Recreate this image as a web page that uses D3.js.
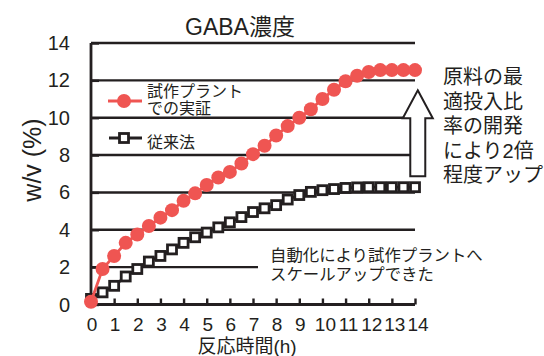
<!DOCTYPE html>
<html>
<head>
<meta charset="utf-8">
<script src="https://cdn.jsdelivr.net/npm/d3@7"></script>
<style>
  html, body { margin: 0; padding: 0; background: #fff; }
  svg { display: block; }
  text { font-family: "Liberation Sans", Arial, "Noto Sans CJK JP", sans-serif; fill: #231f20; }
</style>
</head>
<body>
<div id="chart"></div>
<script>
// Reaction time (h)
const hours = [0, 0.5, 1, 1.5, 2, 2.5, 3, 3.5, 4, 4.5, 5, 5.5, 6, 6.5, 7,
               7.5, 8, 8.5, 9, 9.5, 10, 10.5, 11, 11.5, 12, 12.5, 13, 13.5, 14];
// GABA concentration, w/v (%) — pilot plant run
const pilotValues = [0.15, 1.9, 2.6, 3.3, 3.75, 4.2, 4.65, 5.05, 5.55, 5.95, 6.4, 6.8, 7.1, 7.55, 8.05,
                     8.5, 9.05, 9.55, 10.0, 10.45, 11.0, 11.5, 11.95, 12.25, 12.45, 12.55, 12.55, 12.55, 12.55];
// GABA concentration, w/v (%) — conventional method
const conventionalValues = [0.3, 0.65, 1.0, 1.5, 1.9, 2.3, 2.6, 2.95, 3.3, 3.6, 3.85, 4.13, 4.4, 4.68, 4.95,
                            5.15, 5.32, 5.62, 5.86, 6.03, 6.12, 6.18, 6.24, 6.27, 6.28, 6.28, 6.28, 6.28, 6.28];
const xTicks = [0, 1, 2, 3, 4, 5, 6, 7, 8, 9, 10, 11, 12, 13, 14];
const yTicks = [0, 2, 4, 6, 8, 10, 12, 14];
const seriesNames = ["試作プラント", "での実証", "従来法"];
const titleText = "GABA濃度";
const xLabel = "反応時間(h)";
const yLabel = "w/v (%)";
const noteRight = ["原料の最", "適投入比", "率の開発", "により2倍", "程度アップ"];
const noteBottom = ["自動化により試作プラントへ", "スケールアップできた"];

const W = 544, H = 356;
const RED = "#ef5552", INK = "#231f20";
const plotL = 91, plotR = 415, plotT = 43, plotB = 304.5;

const x = d3.scaleLinear().domain([0, 14]).range([plotL, plotR]);
const y = d3.scaleLinear().domain([0, 14]).range([plotB, plotT]);

const svg = d3.select("#chart").append("svg").attr("width", W).attr("height", H);

// Horizontal gridlines
svg.append("g").selectAll("line").data(yTicks.filter(d => d > 0)).join("line")
  .attr("x1", x(0)).attr("x2", x(14))
  .attr("y1", d => y(d)).attr("y2", d => y(d))
  .attr("stroke", INK).attr("stroke-width", 2.4);

// Y axis (ticks point inward)
const yAxis = svg.append("g").attr("transform", `translate(${x(0)},0)`)
  .call(d3.axisRight(y).tickValues(yTicks).tickSize(8).tickFormat(""));
yAxis.select(".domain").attr("stroke", INK).attr("stroke-width", 2.8).attr("d", `M0,${plotB}V${plotT}`);
yAxis.selectAll(".tick line").attr("stroke", INK).attr("stroke-width", 2.4);
svg.append("g").selectAll("text").data(yTicks).join("text")
  .attr("x", 70).attr("y", d => y(d) + 7)
  .attr("text-anchor", "end").attr("font-size", 20).text(d => d);

// X axis (ticks point inward)
const xAxis = svg.append("g").attr("transform", `translate(0,${plotB})`)
  .call(d3.axisTop(x).tickValues(xTicks).tickSize(6).tickFormat(""));
xAxis.select(".domain").attr("stroke", INK).attr("stroke-width", 2.8).attr("d", `M${plotL},0H${plotR}`);
xAxis.selectAll(".tick line").attr("stroke", INK).attr("stroke-width", 2.4);
svg.append("g").selectAll("text").data(xTicks).join("text")
  .attr("x", d => x(d) + (d >= 10 ? 3 : 1)).attr("y", 331)
  .attr("text-anchor", "middle").attr("font-size", 19).text(d => d);

// Titles
svg.append("text").attr("x", 240).attr("y", 35).attr("text-anchor", "middle")
  .attr("font-size", 23).text(titleText);
svg.append("text").attr("x", 247).attr("y", 353).attr("text-anchor", "middle")
  .attr("font-size", 19).text(xLabel);
svg.append("text").attr("transform", "translate(41,160) rotate(-90)")
  .attr("text-anchor", "middle").attr("font-size", 25).text(yLabel);

// White panel behind the lower note
svg.append("rect").attr("x", 258).attr("y", 243).attr("width", 240).attr("height", 42).attr("fill", "#fff");
const nb = svg.append("text").attr("font-size", 16.4);
noteBottom.forEach((t, i) => nb.append("tspan").attr("x", 270).attr("y", 261 + i * 18.5).text(t));

// Series
const pilot = hours.map((h, i) => ({ h, v: pilotValues[i] }));
const conv = hours.map((h, i) => ({ h, v: conventionalValues[i] }));
const line = d3.line().x(d => x(d.h)).y(d => y(d.v));

svg.append("path").datum(conv).attr("d", line)
  .attr("fill", "none").attr("stroke", INK).attr("stroke-width", 2.8);
svg.append("g").selectAll("rect").data(conv).join("rect")
  .attr("x", d => x(d.h) - 4.5).attr("y", d => y(d.v) - 4.5)
  .attr("width", 9).attr("height", 9)
  .attr("fill", "#fff").attr("stroke", INK).attr("stroke-width", 2.8);

svg.append("path").datum(pilot).attr("d", line)
  .attr("fill", "none").attr("stroke", RED).attr("stroke-width", 2.8);
svg.append("g").selectAll("circle").data(pilot).join("circle")
  .attr("cx", d => x(d.h)).attr("cy", d => y(d.v)).attr("r", 7)
  .attr("fill", RED);

// Upward arrow
const ax = x(14.12), aTip = y(11.47), aHead = y(9.97), aBase = y(6.87);
svg.append("path")
  .attr("d", `M${ax},${aTip}L${ax + 15},${aHead}L${ax + 7.5},${aHead}L${ax + 7.5},${aBase}` +
             `L${ax - 7.5},${aBase}L${ax - 7.5},${aHead}L${ax - 15},${aHead}Z`)
  .attr("fill", "#fff").attr("stroke", INK).attr("stroke-width", 2).attr("stroke-linejoin", "miter");

const nr = svg.append("text").attr("font-size", 20);
noteRight.forEach((t, i) => nr.append("tspan").attr("x", 443).attr("y", 84 + i * 24.5).text(t));

// Legend
const lg = svg.append("g");
lg.append("line").attr("x1", 108).attr("x2", 142).attr("y1", 101).attr("y2", 101)
  .attr("stroke", RED).attr("stroke-width", 2.8);
lg.append("circle").attr("cx", 124).attr("cy", 101).attr("r", 7).attr("fill", RED);
lg.append("text").attr("x", 147).attr("y", 97).attr("font-size", 16).text(seriesNames[0]);
lg.append("text").attr("x", 147).attr("y", 114).attr("font-size", 16).text(seriesNames[1]);
lg.append("line").attr("x1", 109).attr("x2", 142).attr("y1", 138).attr("y2", 138)
  .attr("stroke", INK).attr("stroke-width", 2.8);
lg.append("rect").attr("x", 119.5).attr("y", 133.5).attr("width", 9).attr("height", 9)
  .attr("fill", "#fff").attr("stroke", INK).attr("stroke-width", 2.8);
lg.append("text").attr("x", 147).attr("y", 148).attr("font-size", 16).text(seriesNames[2]);
</script>
</body>
</html>
